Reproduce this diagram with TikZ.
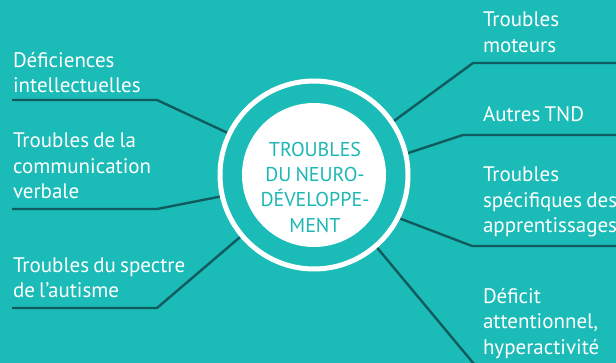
\documentclass[tikz,border=0pt]{standalone}
\usepackage{fontspec}
\setmainfont{PT Sans}[WordSpace=0.75]
\definecolor{bgteal}{HTML}{1BBBB8}
\definecolor{txteal}{HTML}{1DB7B4}
\definecolor{darkline}{HTML}{0F5B5E}
\pgfdeclarelayer{back}
\pgfdeclarelayer{lines}
\pgfsetlayers{back,lines,main}
\tikzset{
  lbl/.style={anchor=north west, inner sep=0pt, outer sep=0pt, align=left, text=white,
    font=\fontsize{21}{25.5}\selectfont},
  ctr/.style={anchor=north, inner sep=0pt, outer sep=0pt, align=center, text=txteal,
    font=\fontsize{20}{25.3}\selectfont},
  conn/.style={draw=darkline, line width=2.4pt, line join=round},
}
\begin{document}
\begin{tikzpicture}[x=1pt,y=-1pt]
\useasboundingbox (0,0) rectangle (616,363);
\clip (0,0) rectangle (616,363);
\begin{pgfonlayer}{back}
\fill[bgteal] (0,0) rectangle (616,363);
\end{pgfonlayer}

% centre
\node[circle, minimum size=188pt, inner sep=0pt, outer sep=0pt, draw=white, line width=5pt] (ring) at (314,175) {};
\node[circle, minimum size=144pt, inner sep=0pt, outer sep=0pt, fill=white] (disc) at (314,175) {};
\node[ctr] (title) at (315,138.4) {\strut TROUBLES\\\strut DU NEURO-\\\strut DÉVELOPPE-\\\strut MENT};

% labels
\node[lbl] (l1) at (13,49.4) {\strut Déficiences\\\strut intellectuelles};
\node[lbl] (l2) at (13,129.9) {\strut Troubles de la\\\strut communication\\\strut verbale};
\node[lbl] (l3) at (13,254.4) {\strut Troubles du spectre\\\strut de l’autisme};
\node[lbl] (r1) at (483,8.9) {\strut Troubles\\\strut moteurs};
\node[lbl] (r2) at (483,103.2) {\strut Autres TND};
\node[lbl] (r3) at (483,163.9) {\strut Troubles\\\strut spécifiques des\\\strut apprentissages};
\node[lbl] (r4) at (483,285.6) {\strut Déficit\\\strut attentionnel,\\\strut hyperactivité};

% underline coordinates
\coordinate (a1) at (157,100); \coordinate (b1) at (12,100);
\coordinate (a2) at (157,209); \coordinate (b2) at (12,209);
\coordinate (a3) at (157,308); \coordinate (b3) at (12,308);
\coordinate (c1) at (473,63);  \coordinate (d1) at (616,63);
\coordinate (c2) at (463,135); \coordinate (d2) at (616,135);
\coordinate (c3) at (472,246); \coordinate (d3) at (616,246);
\coordinate (c4) at (479,370); \coordinate (d4) at (616,370);

\begin{pgfonlayer}{lines}
\draw[conn] (ring.154) -- (a1) -- (b1);
\draw[conn] (ring.193) -- (a2) -- (b2);
\draw[conn] (ring.220) -- (a3) -- (b3);
\draw[conn] (ring.34) -- (c1) -- (d1);
\draw[conn] (ring.13) -- (c2) -- (d2);
\draw[conn] (ring.-27) -- (c3) -- (d3);
\draw[conn] (ring.-49) -- (c4) -- (d4);
\end{pgfonlayer}
\end{tikzpicture}
\end{document}
